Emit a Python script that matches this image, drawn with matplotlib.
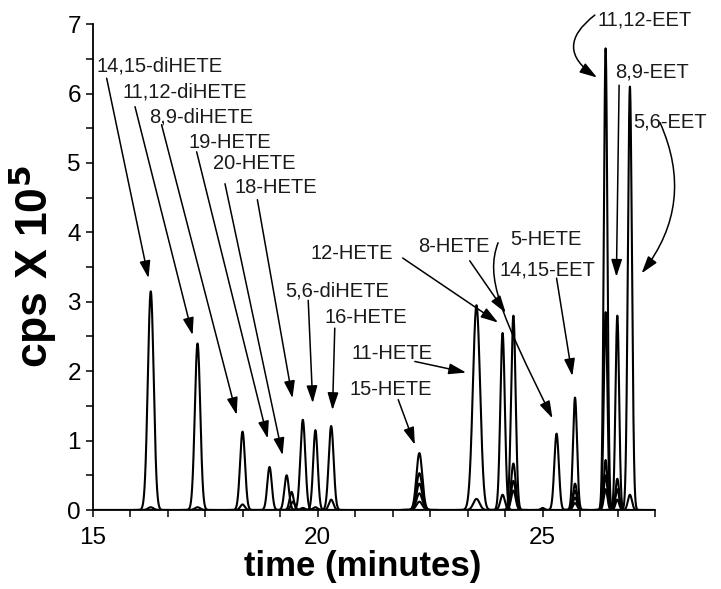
import numpy as np
import matplotlib
matplotlib.use('Agg')
import matplotlib.pyplot as plt
from matplotlib.patches import FancyArrowPatch
from matplotlib.path import Path
from matplotlib.ticker import FixedLocator, MultipleLocator

plt.rcParams['font.family'] = ['Liberation Sans', 'DejaVu Sans']

# main peaks of each eicosanoid trace (retention time, height in cps x 1e5, width)
peak_time = [16.29, 17.33, 18.33, 18.93, 19.31, 19.67, 19.95, 20.30,
             22.26, 23.53, 24.11, 24.35, 25.31, 25.72, 26.40, 26.66, 26.94]
peak_height = [3.15, 2.40, 1.13, 0.62, 0.50, 1.30, 1.15, 1.21,
               0.82, 2.95, 2.55, 2.80, 1.10, 1.62, 6.65, 2.80, 6.10]
peak_sigma = [0.065, 0.060, 0.055, 0.050, 0.050, 0.055, 0.050, 0.055,
              0.065, 0.080, 0.050, 0.050, 0.050, 0.045, 0.040, 0.040, 0.045]

# small peaks from the other monitored transitions
minor_time = [16.29, 17.33, 18.33, 19.42, 19.45, 19.67, 19.95, 20.30,
              22.26, 22.26, 22.26, 22.26, 23.53, 24.11,
              24.35, 24.35, 24.35, 25.00, 25.72, 25.72, 25.72, 25.72,
              26.40, 26.40, 26.40, 26.40, 26.66, 26.66, 26.66, 26.94]
minor_height = [0.04, 0.04, 0.08, 0.26, 0.12, 0.03, 0.04, 0.15,
                0.53, 0.38, 0.24, 0.12, 0.16, 0.22,
                0.67, 0.42, 0.28, 0.03, 0.38, 0.28, 0.18, 0.10,
                2.85, 0.72, 0.50, 0.30, 0.45, 0.30, 0.15, 0.22]
minor_sigma = [0.06, 0.06, 0.05, 0.045, 0.045, 0.05, 0.05, 0.05,
               0.065, 0.065, 0.065, 0.065, 0.07, 0.05,
               0.05, 0.05, 0.05, 0.04, 0.045, 0.045, 0.045, 0.045,
               0.04, 0.04, 0.04, 0.04, 0.04, 0.04, 0.04, 0.045]

# annotations: label, text position, arrow start, arrow tip, curvature
notes = [
    ('14,15-diHETE', (15.09, 6.40), (15.31, 6.22), (16.24, 3.34), 0),
    ('11,12-diHETE', (15.67, 6.02), (15.94, 5.81), (17.22, 2.52), 0),
    ('8,9-diHETE', (16.25, 5.66), (16.53, 5.55), (18.20, 1.37), 0),
    ('19-HETE', (17.12, 5.30), (17.31, 5.16), (18.89, 1.03), 0),
    ('20-HETE', (17.67, 4.99), (17.94, 4.70), (19.22, 0.79), 0),
    ('18-HETE', (18.16, 4.64), (18.66, 4.47), (19.44, 1.61), 0),
    ('12-HETE', (19.83, 3.69), (21.89, 3.63), (24.01, 2.70), 0),
    ('5,6-diHETE', (19.27, 3.16), (19.79, 3.02), (19.89, 1.54), 0),
    ('16-HETE', (20.16, 2.77), (20.38, 2.62), (20.33, 1.44), 0),
    ('11-HETE', (20.76, 2.26), (22.16, 2.14), (23.30, 1.98), 0),
    ('15-HETE', (20.70, 1.73), (21.79, 1.59), (22.16, 0.94), 0),
    ('8-HETE', (22.23, 3.80), (23.38, 3.59), (24.18, 2.84), 0),
    ('14,15-EET', (24.05, 3.46), (25.31, 3.34), (25.66, 1.93), 0),
    ('11,12-EET', (26.21, 7.06), (26.16, 7.13), (26.21, 6.23), 0.7),
    ('8,9-EET', (26.61, 6.31), (26.70, 6.12), (26.64, 3.36), 0),
    ('5,6-EET', (27.01, 5.59), (27.61, 5.58), (27.20, 3.41), -0.3),
]

fig = plt.figure(figsize=(7.21, 5.89), dpi=100)
ax = fig.add_axes([0.1286, 0.1341, 0.780, 0.825])

t = np.linspace(15, 27.5, 6000)
ax.plot(t, np.zeros_like(t), color='black', lw=1.6)
for c, h, s in zip(minor_time + peak_time, minor_height + peak_height,
                   minor_sigma + peak_sigma):
    seg = t[np.abs(t - c) < 6 * s]
    ax.plot(seg, h * np.exp(-0.5 * ((seg - c) / s) ** 2), color='black', lw=1.5)

astyle = '-|>,head_length=0.7,head_width=0.22'
for text, pos, start, tip, rad in notes:
    ax.text(pos[0], pos[1], text, fontsize=14.5, ha='left', va='center',
            color='#1a1a1a')
    ax.annotate('', xy=tip, xytext=start, annotation_clip=False,
                arrowprops=dict(arrowstyle=astyle, mutation_scale=15, lw=1.1,
                                color='black', shrinkA=0, shrinkB=0,
                                connectionstyle=f'arc3,rad={rad}'))

# 5-HETE: label with a bent leader line
ax.text(24.27, 3.89, '5-HETE', fontsize=14.5, ha='left', va='center',
        color='#1a1a1a')
verts = [(24.01, 3.85), (23.72, 3.35), (24.05, 2.85), (25.22, 1.32)]
codes = [Path.MOVETO, Path.CURVE4, Path.CURVE4, Path.CURVE4]
ax.add_patch(FancyArrowPatch(path=Path(verts, codes), arrowstyle=astyle,
                             mutation_scale=15, lw=1.1, color='black'))

ax.set_xlim(15, 27.5)
ax.set_ylim(0, 7)
ax.xaxis.set_major_locator(FixedLocator([15, 20, 25]))
ax.xaxis.set_minor_locator(FixedLocator([15 + k * 5 / 6 for k in range(16)]))
ax.yaxis.set_major_locator(MultipleLocator(1))
ax.yaxis.set_minor_locator(MultipleLocator(0.5))
ax.tick_params(which='both', direction='out', length=5, width=1.1,
               labelsize=17.5, colors='black')
ax.tick_params(axis='x', pad=7)
for side in ('top', 'right'):
    ax.spines[side].set_visible(False)
for side in ('left', 'bottom'):
    ax.spines[side].set_linewidth(1.3)

ax.set_xlabel('time (minutes)', fontsize=25, fontweight='bold')
ax.xaxis.set_label_coords(0.48, -0.082)
ax.set_ylabel(r'cps X 10$^{\mathbf{5}}$', fontsize=32, fontweight='bold')
ax.yaxis.set_label_coords(-0.06, 0.5)

fig.savefig('out.png', dpi=100)
